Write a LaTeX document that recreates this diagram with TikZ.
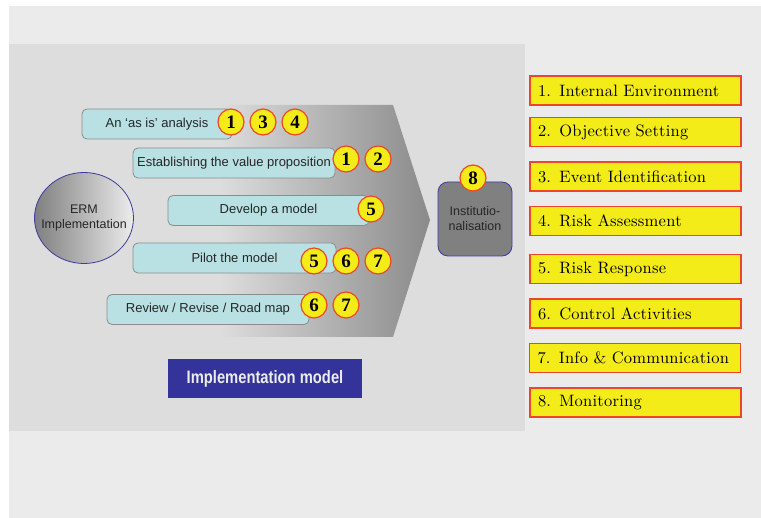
\documentclass[tikz,border=0pt]{standalone}
\usepackage{fontspec}
\setsansfont{Liberation Sans}
\newfontfamily\numfont{Liberation Serif}
\newfontfamily\listfont{lmroman10-regular.otf}[LetterSpace=1.5]
\usepackage{tikz}
\usetikzlibrary{shapes.geometric}

\definecolor{outerbg}{HTML}{EBEBEB}
\definecolor{panelbg}{HTML}{DDDDDD}
\definecolor{stagefill}{HTML}{B9E1E4}
\definecolor{stageline}{HTML}{8C8C8C}
\definecolor{badgeyellow}{HTML}{F4EC18}
\definecolor{badgered}{HTML}{EE4628}
\definecolor{ermblue}{HTML}{3C3C9C}
\definecolor{instgray}{HTML}{808080}
\definecolor{bannerblue}{HTML}{333399}
\definecolor{funnelgray}{HTML}{8A8A8A}

\begin{document}
\begin{tikzpicture}[x=1pt,y=-1pt,
    stage/.style={draw=stageline,fill=stagefill,rounded corners=5pt,line width=.8pt,
      minimum height=30pt,inner sep=0pt,text=black!85,
      font=\sffamily\fontsize{13}{14}\selectfont},
    badge/.style={circle,draw=badgered,fill=badgeyellow,line width=1.2pt,
      minimum size=26pt,inner sep=0pt,font=\numfont\bfseries\fontsize{19}{19}\selectfont},
    comp/.style={draw=badgered,fill=badgeyellow,line width=1.2pt,minimum width=211pt,
      minimum height=29pt,text width=195pt,align=left,inner sep=0pt,
      font=\listfont\fontsize{16.5}{17}\selectfont}]
    \useasboundingbox (0,0) rectangle (761,518);
    \fill[white] (0,0) rectangle (761,518);
    \fill[outerbg] (9,6) rectangle (761,518);
    \fill[panelbg] (9,44) rectangle (525,431);

    % funnel
    \shade[left color=panelbg,right color=funnelgray]
        (220,105) -- (393,105) -- (430,220) -- (393,337) -- (220,337) -- cycle;

    \node[ellipse,draw=ermblue,line width=.8pt,left color=gray,right color=gray!15,
          minimum width=99pt,minimum height=91pt,inner xsep=-9pt,inner ysep=0pt,align=center,
          font=\sffamily\fontsize{12.5}{15}\selectfont,text=black!85] (erm) at (84,218)
          {ERM\\Implementation};

    \node[stage,minimum width=150pt] (asis) at (157,124) {An `as is' analysis};
    \node[stage,minimum width=202pt] (value) at (234,163) {Establishing the value proposition};
    \node[stage,minimum width=201pt] (develop) at (268.5,210.5) {Develop a model};
    \node[stage,minimum width=203pt] (pilot) at (234.5,258) {Pilot the model};
    \node[stage,minimum width=202pt] (review) at (208,309.5) {Review / Revise / Road map};

    \node[draw=ermblue,line width=.8pt,fill=instgray,rounded corners=10pt,
          minimum width=74pt,minimum height=74pt,inner sep=0pt,align=center,
          font=\sffamily\fontsize{12.5}{15}\selectfont,text=black!85] (inst) at (475,219)
          {Institutio-\\nalisation};

    \node[badge] (a1) at (231,122) {1};
    \node[badge] (a3) at (263,122) {3};
    \node[badge] (a4) at (295,122) {4};
    \node[badge] (v1) at (346,159) {1};
    \node[badge] (v2) at (378,159) {2};
    \node[badge] (d5) at (371,209) {5};
    \node[badge] (p5) at (314,261) {5};
    \node[badge] (p6) at (346,261) {6};
    \node[badge] (p7) at (378,261) {7};
    \node[badge] (r6) at (314,305) {6};
    \node[badge] (r7) at (346,305) {7};
    \node[badge] (i8) at (473,178) {8};

    \node[fill=bannerblue,minimum width=194pt,minimum height=39pt,inner sep=0pt,
          text=white!85!gray] (banner) at (265,378.5)
          {\scalebox{0.82}[1]{\sffamily\bfseries\fontsize{18}{18}\selectfont Implementation model}};

    \node[comp] (k1) at (635.5,90.5) {1. Internal Environment};
    \node[comp] (k2) at (635.5,132) {2. Objective Setting};
    \node[comp] (k3) at (635.5,176.5) {3. Event Identification};
    \node[comp] (k4) at (635.5,221) {4. Risk Assessment};
    \node[comp] (k5) at (635.5,269) {5. Risk Response};
    \node[comp] (k6) at (635.5,313.5) {6. Control Activities};
    \node[comp] (k7) at (635,358) {7. Info \& Communication};
    \node[comp] (k8) at (635.5,402.5) {8. Monitoring};
\end{tikzpicture}
\end{document}
